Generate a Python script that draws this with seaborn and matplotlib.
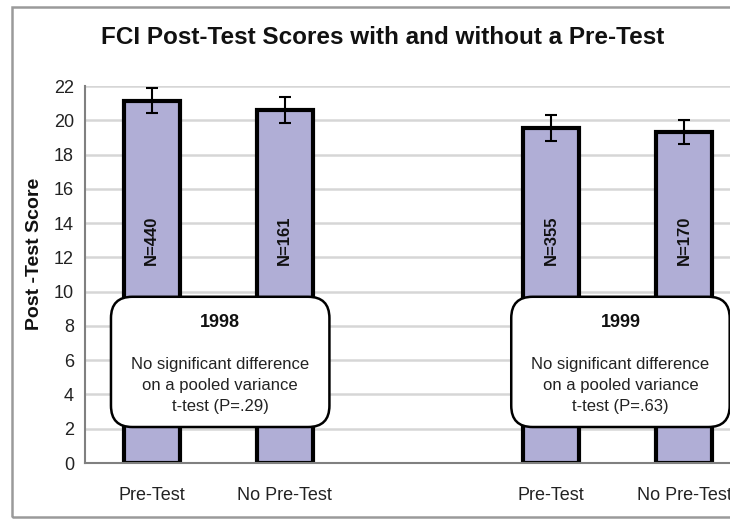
import numpy as np
import pandas as pd
import matplotlib
matplotlib.use("Agg")
import matplotlib.pyplot as plt
import seaborn as sns
from matplotlib.patches import FancyBboxPatch, Rectangle

sns.set_theme(style="white")
plt.rcParams["font.family"] = ["Liberation Sans", "DejaVu Sans"]

# ==========================================================
# DADOS
# ==========================================================
grupos = ["1998 Pre-Test", "1998 No Pre-Test", "gap", "1999 Pre-Test", "1999 No Pre-Test"]
rotulos_x = ["Pre-Test", "No Pre-Test", "", "Pre-Test", "No Pre-Test"]
medias = [21.15, 20.6, np.nan, 19.55, 19.3]
erros = [0.72, 0.75, np.nan, 0.75, 0.7]
n_alunos = ["N=440", "N=161", "", "N=355", "N=170"]

anos = ["1998", "1999"]
notas_anos = [
    "No significant difference\non a pooled variance\nt-test (P=.29)",
    "No significant difference\non a pooled variance\nt-test (P=.63)",
]

df = pd.DataFrame({"grupo": grupos, "media": medias}).dropna()

# ==========================================================
# FIGURA
# ==========================================================
fig = plt.figure(figsize=(7.3, 5.19), dpi=100)
ax = fig.add_axes([85 / 730, 1 - 463 / 519, 666 / 730, 377 / 519])

# moldura cinza do gráfico (cortada à direita como no original)
fig.patches.append(Rectangle((12 / 730, 1 - 517 / 519), 1.2, 510 / 519,
                             transform=fig.transFigure, fill=False,
                             edgecolor="#9a9a9a", linewidth=1.8, zorder=0))

ax.set_axisbelow(True)
ax.yaxis.grid(True, color="#d6d6d6", linewidth=1.8)

sns.barplot(data=df, x="grupo", y="media", order=grupos, ax=ax,
            color="#b0aed6", saturation=1, width=0.42,
            edgecolor="black", linewidth=3, errorbar=None, zorder=2)

pos = np.arange(len(grupos))
ax.errorbar(pos, medias, yerr=erros, fmt="none", ecolor="black",
            elinewidth=1.5, capsize=4, capthick=1.5, zorder=3)

for x, txt in zip(pos, n_alunos):
    if txt:
        ax.text(x, 13.0, txt, rotation=90, ha="center", va="center",
                fontsize=12, fontweight="bold", color="#111111", zorder=4)

# caixas com o resultado do teste t
for cx, ano, nota in zip([0.515, 3.52], anos, notas_anos):
    caixa = FancyBboxPatch((cx - 0.82, 2.1), 1.64, 7.6,
                           boxstyle="round,pad=0,rounding_size=0.16",
                           mutation_aspect=7.78, facecolor="white",
                           edgecolor="black", linewidth=1.8, zorder=5)
    ax.add_patch(caixa)
    ax.text(cx, 8.2, ano, ha="center", va="center", fontsize=13,
            fontweight="bold", color="#111111", zorder=6)
    ax.text(cx, 4.55, nota, ha="center", va="center", fontsize=12,
            color="#222222", linespacing=1.5, zorder=6)

ax.set_xlim(-0.5, 4.5)
ax.set_ylim(0, 22)
ax.set_yticks(np.arange(0, 23, 2))
ax.set_xticks(pos)
ax.set_xticklabels(rotulos_x, fontsize=13, color="#222222")
ax.set_xticks(np.arange(-0.5, 5, 1), minor=True)
ax.tick_params(axis="x", which="major", length=0, pad=17)
ax.tick_params(axis="x", which="minor", length=4, color="#777777", width=1.2, direction="out")
ax.tick_params(axis="y", length=4, color="#777777", width=1.2, direction="out",
               labelsize=13, labelcolor="#222222", pad=4)
ax.set_xlabel("")
ax.set_ylabel("")

for lado in ["top", "right"]:
    ax.spines[lado].set_visible(False)
for lado in ["left", "bottom"]:
    ax.spines[lado].set_color("#808080")
    ax.spines[lado].set_linewidth(1.5)

fig.text(383 / 730, 1 - 37 / 519, "FCI Post-Test Scores with and without a Pre-Test",
         ha="center", va="center", fontsize=17.5, fontweight="bold", color="#111111")
fig.text(35 / 730, 1 - 254 / 519, "Post -Test Score", rotation=90,
         ha="center", va="center", fontsize=14, fontweight="bold", color="#111111")

fig.savefig("out.png", dpi=100)
